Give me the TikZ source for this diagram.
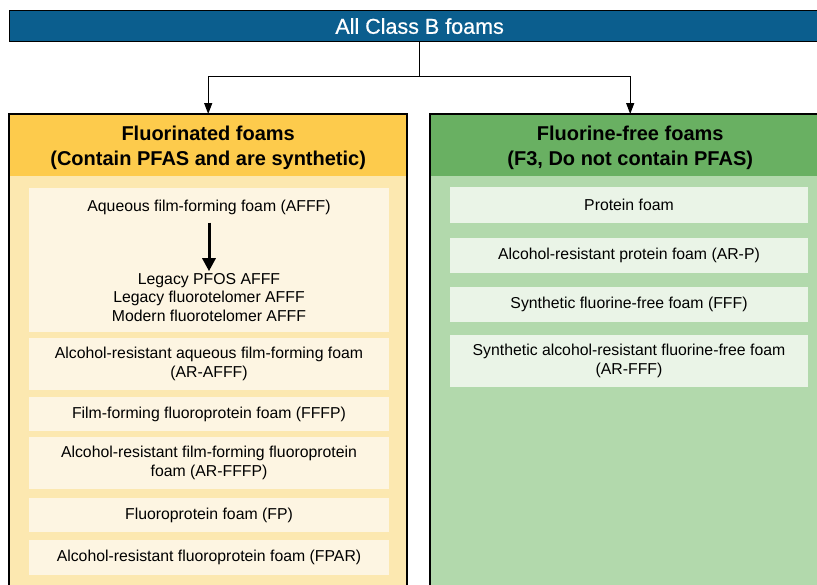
\documentclass[tikz,border=0pt]{standalone}
\usepackage{fontspec}
\setmainfont{Liberation Sans}
\newfontfamily\barfont[FakeBold=0.6]{Liberation Sans}
\usetikzlibrary{arrows.meta}
\definecolor{barblue}{HTML}{0B5E8E}
\definecolor{yhead}{HTML}{FDCB4C}
\definecolor{ybody}{HTML}{FCE8B0}
\definecolor{yinner}{HTML}{FDF5E2}
\definecolor{ghead}{HTML}{69B062}
\definecolor{gbody}{HTML}{B2D9AC}
\definecolor{ginner}{HTML}{EAF4E7}
\begin{document}
\begin{tikzpicture}[x=1pt,y=-1pt,
  border/.style={draw=black, line width=2pt},
  conn/.style={draw=black, line width=1.2pt},
  tip/.style={-{Triangle[width=8pt,length=11pt]}},
  head/.style={inner sep=0pt, minimum height=62pt},
  headtext/.style={inner sep=0pt, align=center,
    font=\fontsize{20}{25}\selectfont\bfseries},
  body/.style={inner sep=0pt, anchor=north west},
  ibox/.style={inner sep=0pt, align=center,
    font=\fontsize{15.8}{18.5}\selectfont},
  itext/.style={inner sep=0pt, align=center,
    font=\fontsize{15.8}{18.5}\selectfont}]
\useasboundingbox (0,0) rectangle (817,584);
\clip (0,0) rectangle (817,584);
\fill[white] (0,0) rectangle (817,584);

% top bar
\node[fill=barblue, draw=black, line width=1.2pt, minimum width=820pt,
  minimum height=31pt, inner sep=0pt, anchor=north west,
  text=white, font=\fontsize{21.5}{25}\barfont] (bar) at (9,10) {All Class B foams};

% left column
\node[body, fill=ybody, minimum width=398pt, minimum height=490pt] (leftbox) at (9,114) {};
\node[head, fill=yhead, minimum width=398pt, anchor=north] (lefthead) at (leftbox.north) {};
\node[headtext] (lefttitle) at ([yshift=-2.5pt]lefthead.center)
  {Fluorinated foams\\(Contain PFAS and are synthetic)};
\draw[border] (leftbox.north west) rectangle (leftbox.south east);

% right column
\node[body, fill=gbody, minimum width=400pt, minimum height=490pt] (rightbox) at (430,114) {};
\node[head, fill=ghead, minimum width=400pt, anchor=north] (righthead) at (rightbox.north) {};
\node[headtext] (righttitle) at ([yshift=-2.5pt]righthead.center)
  {Fluorine-free foams\\(F3, Do not contain PFAS)};
\draw[border] (rightbox.north west) rectangle (rightbox.south east);

% connectors from top bar
\draw[conn] (bar.south) -- ++(0,34) coordinate (split);
\draw[conn, tip] (split) -| (lefthead.north);
\draw[conn, tip] (split) -| (righthead.north);

% left inner boxes
\node[ibox, fill=yinner, minimum width=360pt, minimum height=144pt] (afffbox) at (209,260) {};
\node[itext] (afff) at (209,207) {Aqueous film-forming foam (AFFF)};
\node[itext] (legacy) at (209,297.5) {Legacy PFOS AFFF\\Legacy fluorotelomer AFFF\\Modern fluorotelomer AFFF};
\draw[line width=3pt, -{Triangle[width=13pt,length=13pt]}, shorten <=8pt, shorten >=2pt] (afff.south) -- (legacy.north);

\node[ibox, fill=yinner, minimum width=360pt, minimum height=52pt] (arafff) at (209,364)
  {Alcohol-resistant aqueous film-forming foam\\(AR-AFFF)};
\node[ibox, fill=yinner, minimum width=360pt, minimum height=34pt] (fffp) at (209,414)
  {Film-forming fluoroprotein foam (FFFP)};
\node[ibox, fill=yinner, minimum width=360pt, minimum height=52pt] (arfffp) at (209,463)
  {Alcohol-resistant film-forming fluoroprotein\\foam (AR-FFFP)};
\node[ibox, fill=yinner, minimum width=360pt, minimum height=34pt] (fp) at (209,515)
  {Fluoroprotein foam (FP)};
\node[ibox, fill=yinner, minimum width=360pt, minimum height=35pt] (fpar) at (209,557.5)
  {Alcohol-resistant fluoroprotein foam (FPAR)};

% right inner boxes
\node[ibox, fill=ginner, minimum width=358pt, minimum height=36pt] (prot) at (629,205)
  {Protein foam};
\node[ibox, fill=ginner, minimum width=358pt, minimum height=35pt] (arp) at (629,255.5)
  {Alcohol-resistant protein foam (AR-P)};
\node[ibox, fill=ginner, minimum width=358pt, minimum height=35pt] (fff) at (629,304.5)
  {Synthetic fluorine-free foam (FFF)};
\node[ibox, fill=ginner, minimum width=358pt, minimum height=52pt] (arfff) at (629,361)
  {Synthetic alcohol-resistant fluorine-free foam\\(AR-FFF)};
\end{tikzpicture}
\end{document}
